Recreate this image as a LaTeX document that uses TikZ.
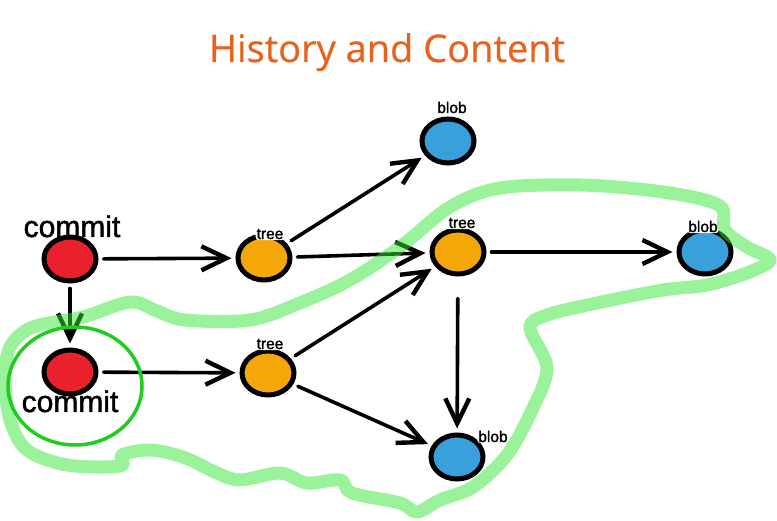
\documentclass[tikz,border=0pt]{standalone}
\usepackage{fontspec}
\setmainfont{Liberation Sans}
\newfontfamily\titlefont{Open Sans}[FakeBold=0.6]
\newfontfamily\heavyfont{Liberation Sans}[FakeBold=1.5]
\usetikzlibrary{arrows.meta,shapes.geometric}
\definecolor{commitred}{RGB}{232,33,45}
\definecolor{treeorange}{RGB}{245,167,10}
\definecolor{blobblue}{RGB}{58,160,220}
\definecolor{titleorange}{RGB}{232,98,28}
\definecolor{bandgreen}{RGB}{53,229,55}
\definecolor{ringgreen}{RGB}{30,205,30}
\begin{document}
\begin{tikzpicture}[x=1pt,y=-1pt,
  obj/.style={ellipse,draw,line width=5pt,minimum width=52pt,minimum height=44pt,inner sep=0pt},
  commitnode/.style={obj,fill=commitred},
  treenode/.style={obj,fill=treeorange},
  blobnode/.style={obj,fill=blobblue},
  biglbl/.style={anchor=base,inner sep=1pt,font=\heavyfont\fontsize{30}{36}\selectfont},
  lbl/.style={anchor=base,inner sep=1pt,fill=white,rounded corners=3pt,font=\heavyfont\fontsize{15.5}{18}\selectfont},
  link/.style={line width=3.6pt,line cap=round,shorten <=5pt,shorten >=4pt,
    -{Straight Barb[length=25pt,width=24pt,line width=4.4pt]}}]
  \useasboundingbox (0,0) rectangle (777,521);
  \node[anchor=base,text=titleorange,font=\titlefont\fontsize{38}{44}\selectfont] (title) at (387,62) {History and Content};

  % commits
  \node[commitnode] (c1) at (70,259) {};
  \node[commitnode] (c2) at (70,372) {};
  \node[biglbl] (c1lbl) at (72,237) {commit};
  \node[biglbl] (c2lbl) at (70,412) {commit};

  % trees
  \node[treenode] (t1) at (264,258) {};
  \node[treenode] (t2) at (268,373) {};
  \node[treenode] (t3) at (458,252) {};
  \node[lbl] (t1lbl) at (270,239) {tree};
  \node[lbl] (t2lbl) at (270,349) {tree};
  \node[lbl] (t3lbl) at (462,228) {tree};

  % blobs
  \node[blobnode] (b1) at (448,141) {};
  \node[blobnode] (b2) at (705,252) {};
  \node[blobnode] (b3) at (457,457) {};
  \node[lbl] (b1lbl) at (452,113) {blob};
  \node[lbl] (b2lbl) at (703,232) {blob};
  \node[lbl] (b3lbl) at (493,442) {blob};

  \draw[link] (c1) -- (t1);
  \draw[link] (c1) -- (c2);
  \draw[link] (c2) -- (t2);
  \draw[link] (t1) -- (b1);
  \draw[link] (t1) -- (t3);
  \draw[link] (t2) -- (t3);
  \draw[link] (t2) -- (b3);
  \draw[link] (t3) -- (b2);
  \draw[link,shorten <=22pt] (t3) -- (b3);

  % content of the second commit
  \draw[bandgreen,opacity=0.5,line width=13pt,line join=round]
    plot[smooth cycle,tension=0.55] coordinates {
      (130,302) (157,311) (185,320) (250,320) (300,303) (350,280) (400,247)
      (450,207) (500,188) (580,185) (647,190) (697,198) (722,208) (725,230)
      (747,247) (770,260) (747,273) (707,285) (663,290) (597,303) (547,315)
      (530,328) (547,368) (532,410) (507,455) (473,487) (440,500) (417,512)
      (400,503) (352,493) (340,480) (307,483) (280,473) (240,480) (217,473)
      (183,457) (150,450) (122,455) (120,466) (67,465) (27,450) (10,420)
      (5,380) (10,347) (33,327) (83,317)};
  \node[ellipse,draw=ringgreen,line width=3.5pt,minimum width=134pt,minimum height=118pt] (focus) at (75,386) {};
\end{tikzpicture}
\end{document}
